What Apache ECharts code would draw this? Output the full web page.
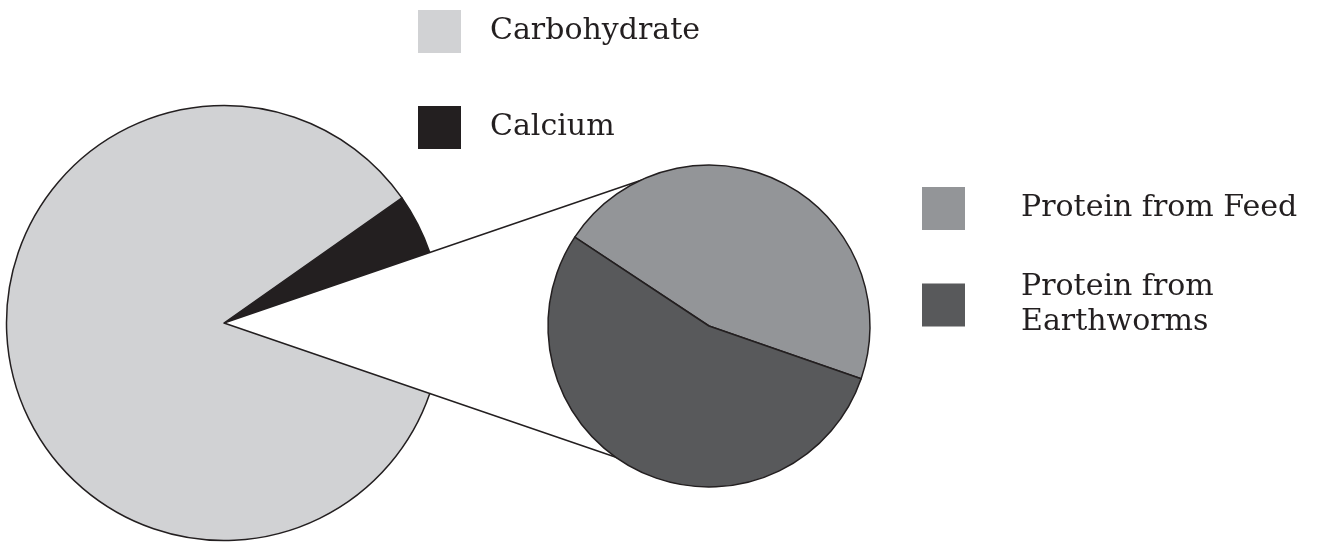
<!DOCTYPE html>
<html><head><meta charset="utf-8">
<script src="https://cdn.jsdelivr.net/npm/echarts@6/dist/echarts.min.js"></script>
<style>html,body{margin:0;padding:0;background:#fff}#c{width:1321px;height:542px}</style>
</head><body><div id="c"></div>
<script>
// ---- data ----
const mainCategories = ['Calcium', 'Protein', 'Carbohydrate'];
const mainValues = [4.5, 10.5, 85];
const proteinCategories = ['Protein from Feed', 'Protein from Earthworms'];
const proteinValues = [46, 54];
const leftLegendLabels = ['Carbohydrate', 'Calcium'];
const rightLegendLabels = ['Protein from Feed', 'Protein from Earthworms'];

// ---- styles ----
const colorMap = {
  'Carbohydrate': '#d1d2d4',
  'Calcium': '#231f20',
  'Protein from Feed': '#939598',
  'Protein from Earthworms': '#58595b'
};
const lineColor = '#231f20';
const FONT = 'DejaVu Serif';
const leftCenter = [224, 323], leftR = 217.5;
const rightCenter = [709, 326], rightR = 161;
// per-item vertical nudges of legend text (bottom padding)
const textNudge = { 'Carbohydrate': 8, 'Calcium': 0, 'Protein from Feed': 4, 'Protein from Earthworms': 14 };

const total = mainValues.reduce((a, b) => a + b, 0);
const iCal = mainCategories.indexOf('Calcium');
const iPro = mainCategories.indexOf('Protein');
const calDeg = mainValues[iCal] / total * 360;
const proDeg = mainValues[iPro] / total * 360;
const leftStart = calDeg + proDeg / 2;

const mainData = mainCategories.map((n, i) => n === 'Protein'
  ? { name: n, value: mainValues[i], itemStyle: { color: 'rgba(0,0,0,0)', borderWidth: 0 } }
  : { name: n, value: mainValues[i], itemStyle: { color: colorMap[n] } });
const protData = proteinCategories.map((n, i) => ({ name: n, value: proteinValues[i], itemStyle: { color: colorMap[n] } }));

// connector lines along the protein gap edges
function connector(deg) {
  const a = deg * Math.PI / 180;
  const u = [Math.cos(a), -Math.sin(a)];
  const p1 = [leftCenter[0] + leftR * u[0], leftCenter[1] + leftR * u[1]];
  const t = (rightCenter[0] - leftCenter[0]) * u[0] + (rightCenter[1] - leftCenter[1]) * u[1];
  const p2 = [leftCenter[0] + t * u[0], leftCenter[1] + t * u[1]];
  return { type: 'line', z: 1, shape: { x1: p1[0], y1: p1[1], x2: p2[0], y2: p2[1] },
    style: { stroke: lineColor, lineWidth: 1.5 } };
}
const upperDeg = leftStart - calDeg;
const lowerDeg = upperDeg - proDeg;

const legendText = { fontFamily: FONT, fontSize: 30, color: '#231f20' };
const chart = echarts.init(document.getElementById('c'), null, { renderer: 'canvas' });
chart.setOption({
  animation: false,
  backgroundColor: '#fff',
  legend: [
    { data: leftLegendLabels.map(n => ({ name: n, textStyle: Object.assign({}, legendText, { padding: [0, 0, textNudge[n], 24] }) })),
      orient: 'vertical', left: 418, top: 10, padding: 0, itemWidth: 43, itemHeight: 43, itemGap: 53,
      icon: 'rect', selectedMode: false, itemStyle: { borderWidth: 0 }, textStyle: legendText },
    { data: rightLegendLabels.map(n => ({ name: n, textStyle: Object.assign({}, legendText, { padding: [0, 0, textNudge[n], 51], lineHeight: 35 }) })),
      orient: 'vertical', left: 922, top: 187, padding: 0, itemWidth: 43, itemHeight: 43, itemGap: 33,
      icon: 'rect', selectedMode: false, itemStyle: { borderWidth: 0 }, textStyle: legendText,
      formatter: n => n === 'Protein from Earthworms' ? 'Protein from\nEarthworms' : n }
  ],
  graphic: [connector(upperDeg), connector(lowerDeg)],
  series: [
    { type: 'pie', center: leftCenter, radius: leftR, startAngle: leftStart, clockwise: true,
      data: mainData, label: { show: false }, labelLine: { show: false }, silent: true,
      itemStyle: { borderColor: lineColor, borderWidth: 1.5 }, emphasis: { disabled: true } },
    { type: 'pie', center: rightCenter, radius: rightR, startAngle: 146.5, clockwise: true,
      data: protData, label: { show: false }, labelLine: { show: false }, silent: true,
      itemStyle: { borderColor: lineColor, borderWidth: 1.5 }, emphasis: { disabled: true } }
  ]
});
</script></body></html>
